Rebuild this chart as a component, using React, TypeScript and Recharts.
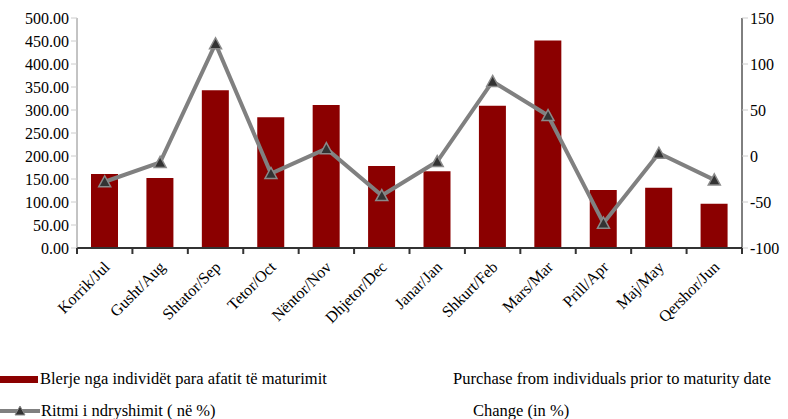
import React from "react";
import { ComposedChart, Bar, Line, XAxis, YAxis } from "recharts";

const months = [
  "Korrik/Jul", "Gusht/Aug", "Shtator/Sep", "Tetor/Oct", "Nëntor/Nov", "Dhjetor/Dec",
  "Janar/Jan", "Shkurt/Feb", "Mars/Mar", "Prill/Apr", "Maj/May", "Qershor/Jun",
];
const purchases = [161, 152, 343, 284, 311, 178, 167, 309, 451, 126, 131, 96];
const changePct = [-28, -7, 122, -19, 8, -43, -6, 81, 44, -73, 3, -26];
const leftTicks = [0, 50, 100, 150, 200, 250, 300, 350, 400, 450, 500];
const rightTicks = [-100, -50, 0, 50, 100, 150];

const data = months.map((m, i) => ({ month: m, purchases: purchases[i], change: changePct[i] }));

const FONT = "'Liberation Serif', 'Times New Roman', serif";

const W = 788;
const H = 360;
const MARGIN = { top: 18, right: 6, bottom: 0, left: 7 };
const LEFT_W = 70;
const RIGHT_W = 40;
const X_H = 112;
const PLOT_BOTTOM = H - MARGIN.bottom - X_H;
const HALF_BAND = (W - MARGIN.left - MARGIN.right - LEFT_W - RIGHT_W) / months.length / 2;

const Triangle = (props: any) => {
  const { cx, cy, index } = props;
  if (cx == null || cy == null) return null;
  return (
    <path
      key={`tri-${index}`}
      d={`M${cx},${cy - 6} L${cx + 6},${cy + 5} L${cx - 6},${cy + 5} Z`}
      fill="#333333"
      stroke="#8a8a8a"
      strokeWidth={1.5}
    />
  );
};

// category labels, plus the dark tick marks at the category boundaries
const MonthTick = (props: any) => {
  const { x, y, payload, index } = props;
  return (
    <g>
      <rect x={x - HALF_BAND - 1} y={PLOT_BOTTOM} width={2} height={6} fill="#333" />
      {index === months.length - 1 && (
        <rect x={x + HALF_BAND - 1} y={PLOT_BOTTOM} width={2} height={6} fill="#333" />
      )}
      <g transform={`translate(${x + 6},${y + 12})`}>
        <text textAnchor="end" transform="rotate(-45)" fontFamily={FONT} fontSize={16} fill="#000">
          {payload.value}
        </text>
      </g>
    </g>
  );
};

export default function App() {
  return (
    <div style={{ position: "absolute", left: 0, top: 0, width: 788, height: 419, background: "#fff", fontFamily: FONT }}>
      <ComposedChart width={W} height={H} data={data} margin={MARGIN}>
        <XAxis
          dataKey="month"
          axisLine={{ stroke: "#333", strokeWidth: 2 }}
          tickLine={false}
          tick={<MonthTick />}
          interval={0}
          height={X_H}
        />
        <YAxis
          yAxisId="left"
          domain={[0, 500]}
          ticks={leftTicks}
          tickFormatter={(v: number) => v.toFixed(2)}
          axisLine={{ stroke: "#888" }}
          tickLine={{ stroke: "#ccc" }}
          tick={{ fill: "#000", fontSize: 16, fontFamily: FONT }}
          width={LEFT_W}
          interval={0}
        />
        <YAxis
          yAxisId="right"
          orientation="right"
          domain={[-100, 150]}
          ticks={rightTicks}
          axisLine={{ stroke: "#000" }}
          tickLine={{ stroke: "#ccc" }}
          tick={{ fill: "#000", fontSize: 16, fontFamily: FONT }}
          width={RIGHT_W}
          interval={0}
        />
        <Bar yAxisId="left" dataKey="purchases" fill="#8b0000" barSize={27} isAnimationActive={false} />
        <Line
          yAxisId="right"
          dataKey="change"
          stroke="#808080"
          strokeWidth={4}
          dot={<Triangle />}
          activeDot={false}
          isAnimationActive={false}
        />
      </ComposedChart>
      <div style={{ position: "absolute", left: 0, top: 369, fontSize: 16.5, color: "#000", width: 788 }}>
        <div style={{ position: "absolute", left: 0, top: 0, display: "flex", alignItems: "center", whiteSpace: "nowrap" }}>
          <span style={{ display: "inline-block", width: 38, height: 7, background: "#8b0000", marginRight: 2 }} />
          <span>Blerje nga individët para afatit të maturimit</span>
        </div>
        <div style={{ position: "absolute", left: 453, top: 0, whiteSpace: "nowrap" }}>Purchase from individuals prior to maturity date</div>
        <div style={{ position: "absolute", left: 0, top: 32, display: "flex", alignItems: "center", whiteSpace: "nowrap" }}>
          <svg width={40} height={12} style={{ marginRight: 1 }}>
            <line x1={0} y1={6} x2={40} y2={6} stroke="#808080" strokeWidth={4} />
            <path d="M20,1 L25,10 L15,10 Z" fill="#333" stroke="#8a8a8a" strokeWidth={1} />
          </svg>
          <span>Ritmi i ndryshimit ( në %)</span>
        </div>
        <div style={{ position: "absolute", left: 473, top: 32, whiteSpace: "nowrap" }}>Change (in %)</div>
      </div>
    </div>
  );
}
